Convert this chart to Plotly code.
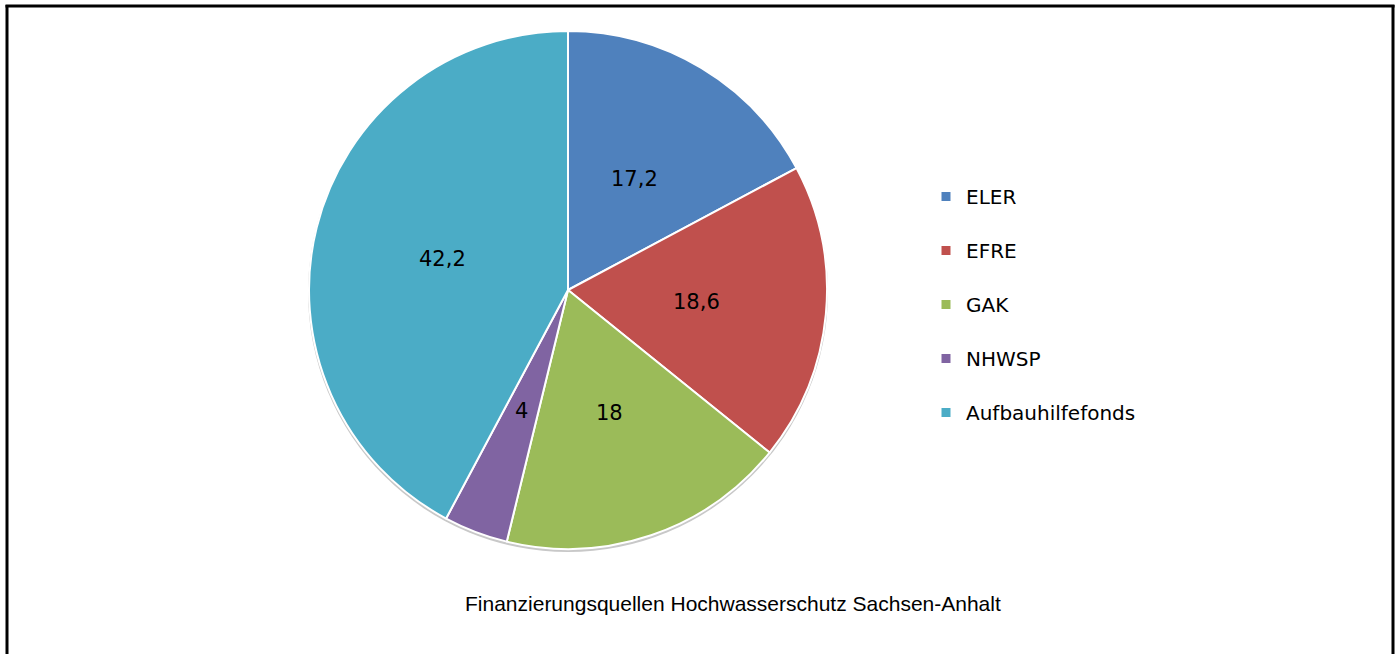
import math
import plotly.graph_objects as go

categories = ["ELER", "EFRE", "GAK", "NHWSP", "Aufbauhilfefonds"]
values = [17.2, 18.6, 18, 4, 42.2]
colors = ["#4F81BD", "#C0504D", "#9BBB59", "#8064A2", "#4BACC6"]
title_text = "Finanzierungsquellen Hochwasserschutz Sachsen-Anhalt"

W, H = 1398, 654
cx_px, cy_px, R = 568, 290, 259

fig = go.Figure()
fig.add_trace(go.Pie(
    labels=categories, values=values, sort=False, direction="clockwise",
    rotation=0, textinfo="none", hoverinfo="label+value",
    marker=dict(colors=colors, line=dict(color="white", width=2)),
    domain=dict(x=[(cx_px - R) / W, (cx_px + R) / W],
                y=[1 - (cy_px + R) / H, 1 - (cy_px - R) / H]),
    showlegend=False,
))

# legend entries as dummy traces so spacing can be controlled
for c, col in zip(categories, colors):
    fig.add_trace(go.Scatter(
        x=[None], y=[None], mode="markers", name=c, legendgroup=c,
        marker=dict(symbol="square", size=9, color=col),
    ))

# data labels at half radius of slice mid-angle
total = sum(values)
cum = 0
annotations = []
for v in values:
    mid = (cum + v / 2) / total * 2 * math.pi
    cum += v
    x = (cx_px + 0.5 * R * math.sin(mid)) / W
    y = 1 - (cy_px - 0.5 * R * math.cos(mid)) / H
    txt = ("%g" % v).replace(".", ",")
    annotations.append(dict(x=x, y=y, xref="paper", yref="paper", text=txt,
                            showarrow=False, xanchor="center", yanchor="middle",
                            font=dict(family="DejaVu Sans", size=21, color="#000")))
annotations.append(dict(x=733 / W, y=1 - 603 / H, xref="paper", yref="paper",
                        text=title_text, showarrow=False,
                        xanchor="center", yanchor="middle",
                        font=dict(family="Liberation Sans, Arial", size=21, color="#000")))

shapes = [
    # soft shadow under the pie
    dict(type="circle", xref="paper", yref="paper", layer="below",
         x0=(cx_px - R - 1) / W, x1=(cx_px + R + 1) / W,
         y0=1 - (cy_px + R + 3) / H, y1=1 - (cy_px - R + 1) / H,
         fillcolor="#c8c8c8", line=dict(width=0)),
    dict(type="line", xref="paper", yref="paper", x0=7 / W, x1=7 / W, y0=0, y1=1 - 5 / H,
         line=dict(color="black", width=3)),
    dict(type="line", xref="paper", yref="paper", x0=1393 / W, x1=1393 / W, y0=0, y1=1 - 5 / H,
         line=dict(color="black", width=3)),
    dict(type="line", xref="paper", yref="paper", x0=5.5 / W, x1=1394.5 / W, y0=1 - 6 / H, y1=1 - 6 / H,
         line=dict(color="black", width=3)),
]

fig.update_layout(
    width=W, height=H, margin=dict(l=0, r=0, t=0, b=0),
    paper_bgcolor="white", plot_bgcolor="white",
    xaxis=dict(visible=False), yaxis=dict(visible=False),
    legend=dict(x=926 / W, y=1 - 177 / H, xanchor="left", yanchor="top",
                tracegroupgap=25, itemwidth=30,
                font=dict(family="DejaVu Sans", size=20, color="#000"),
                bgcolor="rgba(0,0,0,0)"),
    annotations=annotations, shapes=shapes,
)

fig.write_html("out.html", config={"displayModeBar": False},
               post_script="document.body.style.margin='0';document.body.style.overflow='hidden';")
